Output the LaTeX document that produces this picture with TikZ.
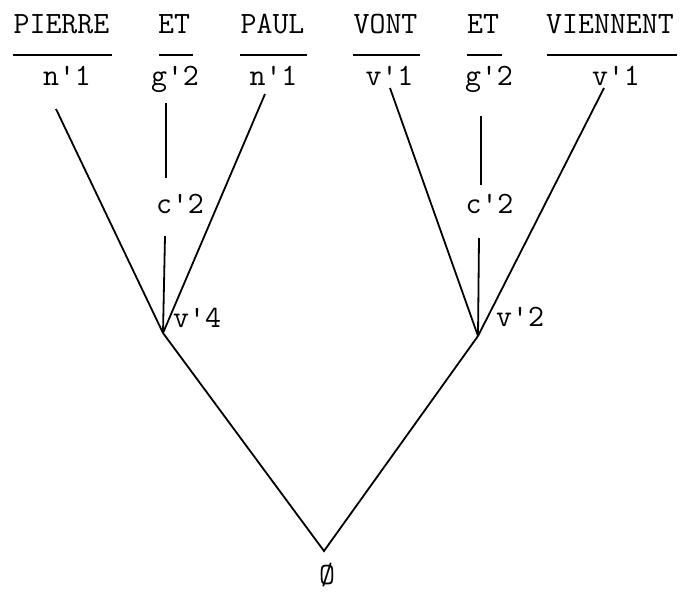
\documentclass[tikz,border=0pt]{standalone}
\begin{document}
\begin{tikzpicture}[x=1pt,y=-1pt,
  txt/.style={font=\fontsize{31}{36}\selectfont\ttfamily, inner sep=0pt, anchor=base},
  bar/.style={inner sep=0pt, minimum height=1.8pt, fill=black, draw=none},
  edge/.style={line width=1.8pt}]
\useasboundingbox (0,0) rectangle (680,592);
% words
\node[txt] (w1) at (61.5,33) {PIERRE};
\node[txt] (w2) at (174,33) {ET};
\node[txt] (w3) at (272.5,33) {PAUL};
\node[txt] (w4) at (385.5,33) {VONT};
\node[txt] (w5) at (483,33) {ET};
\node[txt] (w6) at (610,33) {VIENNENT};
% bars
\node[bar, minimum width=99pt] (b1) at (62.5,55) {};
\node[bar, minimum width=34pt] (b2) at (176,55) {};
\node[bar, minimum width=67pt] (b3) at (273.5,55) {};
\node[bar, minimum width=67pt] (b4) at (386.5,55) {};
\node[bar, minimum width=35pt] (b5) at (484.5,55) {};
\node[bar, minimum width=130pt] (b6) at (612,55) {};
% categories
\node[txt] (l1) at (67,85) {n\textquotesingle 1};
\node[txt] (l2) at (175,85) {g\textquotesingle 2};
\node[txt] (l3) at (273.5,85) {n\textquotesingle 1};
\node[txt] (l4) at (389.5,85) {v\textquotesingle 1};
\node[txt] (l5) at (489,85) {g\textquotesingle 2};
\node[txt] (l6) at (616,85) {v\textquotesingle 1};
% internal labels
\node[txt] (c1) at (180,213) {c\textquotesingle 2};
\node[txt] (c2) at (489.5,213) {c\textquotesingle 2};
\coordinate (v4) at (163,333);
\coordinate (v2) at (478,336);
\coordinate (r) at (324,551);
\node[txt, anchor=base west] (v4l) at (173,327) {v\textquotesingle 4};
\node[txt, anchor=base west] (v2l) at (496,326) {v\textquotesingle 2};
\node[txt] (root) at (327,584) {Ø};
% line ends
\coordinate (p1) at (56,109);
\coordinate (p2a) at (166,103);
\coordinate (p2b) at (166,178);
\coordinate (p2c) at (165,236);
\coordinate (p3) at (265,94);
\coordinate (p4) at (390,88);
\coordinate (p5a) at (481,116);
\coordinate (p5b) at (481,185);
\coordinate (p5c) at (479,238);
\coordinate (p6) at (604,88);
% edges
\draw[edge] (p1) -- (v4);
\draw[edge] (p2a) -- (p2b);
\draw[edge] (p2c) -- (v4);
\draw[edge] (p3) -- (v4);
\draw[edge] (p4) -- (v2);
\draw[edge] (p5a) -- (p5b);
\draw[edge] (p5c) -- (v2);
\draw[edge] (p6) -- (v2);
\draw[edge] (v4) -- (r) -- (v2);
\end{tikzpicture}
\end{document}
